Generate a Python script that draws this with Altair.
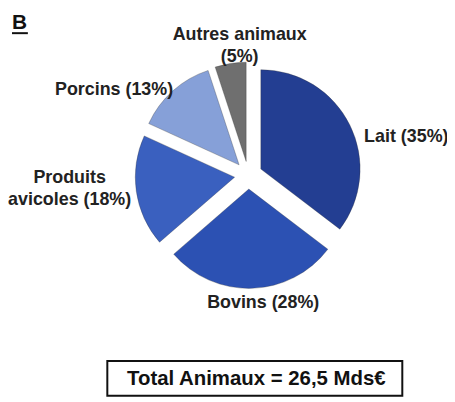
import altair as alt
import pandas as pd

categories = ["Lait", "Bovins", "Produits avicoles", "Porcins", "Autres animaux"]
values = [35, 28, 18, 13, 5]
labels = ["Lait (35%)", "Bovins (28%)", "Produits\navicoles (18%)", "Porcins (13%)", "Autres animaux\n(5%)"]
colors = ["#233e92", "#2c51b3", "#3a60bf", "#86a0d8", "#6f6f6f"]
panel_letter = "B"
total_text = "Total Animaux = 26,5 Mds€"

df = pd.DataFrame({"cat": categories, "value": values, "label": labels, "order": list(range(len(categories)))})
df["maxlen"] = [max(len(p) for p in l.split("\n")) for l in labels]
df["nlines"] = [len(l.split("\n")) for l in labels]

CX, CY, R, EXPLODE = 242, 167, 100, 14
CXL, RLX, RLY, CYL = 246, 125, 125, 171
CHARW, LH = 8.6, 22

base = alt.Chart(df).transform_joinaggregate(
    total="sum(value)"
).transform_window(
    cum="sum(value)", sort=[alt.SortField("order")], frame=[None, 0]
).transform_calculate(
    a0="(datum.cum - datum.value) / datum.total * 2 * PI",
    a1="datum.cum / datum.total * 2 * PI",
).transform_calculate(
    mid="(datum.a0 + datum.a1) / 2"
).transform_calculate(
    s="sin(datum.mid)",
    px=f"{CX} + {EXPLODE} * sin(datum.mid)",
    py=f"{CY} - {EXPLODE} * cos(datum.mid)",
    ly=f"{CYL} - {RLY} * cos(datum.mid) - (datum.nlines - 1) * {LH}",
).transform_calculate(
    side="datum.s > 0.5 ? 1 : (datum.s < -0.5 ? -1 : 0)",
).transform_calculate(
    lx=f"{CXL} + {RLX} * datum.s + datum.side * datum.maxlen * {CHARW} / 2 + (datum.side == 0 ? 7 : 0)",
    ly2="datum.ly + (datum.side > 0 ? 13 : (datum.side < 0 ? 3 : 0))",
)

arcs = base.mark_arc(outerRadius=R, stroke="#333333", strokeWidth=0.6, strokeOpacity=0.5).encode(
    x=alt.X("px:Q", scale=None, axis=None),
    y=alt.Y("py:Q", scale=None, axis=None),
    theta=alt.Theta("a0:Q", scale=None, stack=None),
    theta2="a1:Q",
    color=alt.Color("cat:N", scale=alt.Scale(domain=categories, range=colors), legend=None),
)

labels_layer = base.mark_text(
    font="Liberation Sans", fontWeight="bold", fontSize=18, color="#222222",
    align="center", baseline="middle", lineBreak="\n", lineHeight=LH,
).encode(
    x=alt.X("lx:Q", scale=None, axis=None),
    y=alt.Y("ly2:Q", scale=None, axis=None),
    text="label:N",
)

letter = alt.Chart(pd.DataFrame({"t": [panel_letter]})).mark_text(
    font="Liberation Sans", fontWeight="bold", fontSize=21, align="left", baseline="alphabetic", color="#111111"
).encode(x=alt.value(4), y=alt.value(20), text="t:N")

underline = alt.Chart(pd.DataFrame({"t": [panel_letter]})).mark_rule(color="#111111", strokeWidth=2).encode(
    x=alt.value(4), x2=alt.value(20), y=alt.value(24)
)

box = alt.Chart(pd.DataFrame({"t": [total_text]})).mark_rect(
    fill="white", stroke="#111111", strokeWidth=2
).encode(x=alt.value(100), x2=alt.value(397), y=alt.value(354), y2=alt.value(389))

box_text = alt.Chart(pd.DataFrame({"t": [total_text]})).mark_text(
    font="Liberation Sans", fontWeight="bold", fontSize=20.5, align="center", baseline="middle", color="#111111"
).encode(x=alt.value(250), y=alt.value(372), text="t:N")

chart = alt.layer(arcs, labels_layer, letter, underline, box, box_text).properties(
    width=442, height=391, padding=0,
    autosize=alt.AutoSizeParams(type="none"),
).configure_view(stroke=None)

chart.save("out.html", embed_options={"renderer": "svg", "actions": False})
